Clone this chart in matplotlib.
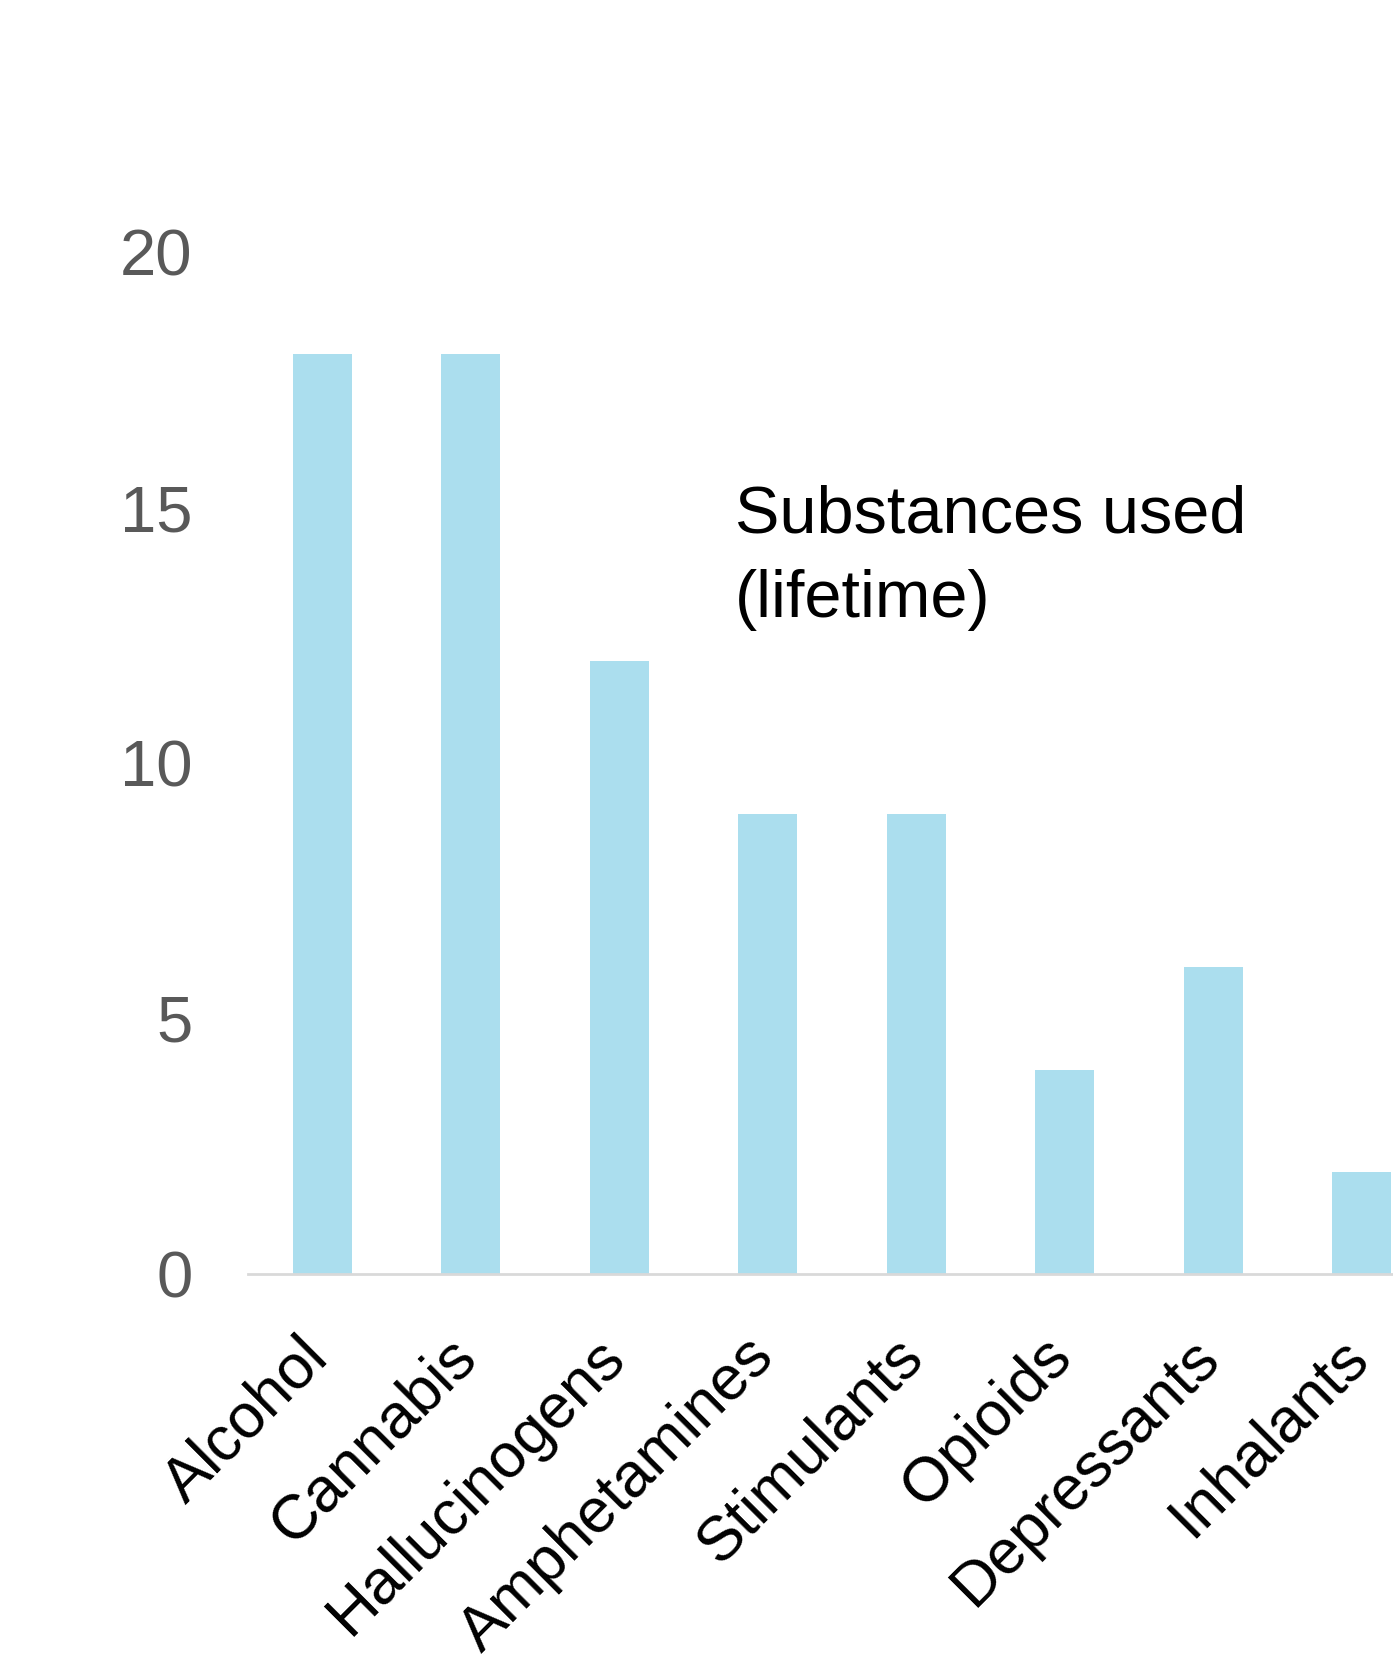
import matplotlib.pyplot as plt
from matplotlib.transforms import ScaledTranslation

plt.rcParams['font.family'] = ['Liberation Sans', 'DejaVu Sans']

substances = ['Alcohol', 'Cannabis', 'Hallucinogens', 'Amphetamines',
              'Stimulants', 'Opioids', 'Depressants', 'Inhalants']
counts = [18, 18, 12, 9, 9, 4, 6, 2]
yticks = [0, 5, 10, 15, 20]

W, H = 1393, 1662
fig = plt.figure(figsize=(W / 100, H / 100), dpi=100)

# axes runs past the right edge of the figure, like the original
left, bottom = 248 / W, (H - 1274) / H
ax = fig.add_axes([left, bottom, 1188 / W, 1022 / H])

x = range(len(substances))
ax.bar(x, counts, width=0.4, color='#ABDEEE', zorder=2)

ax.set_xlim(-0.5, 7.5)
ax.set_ylim(0, 20)
ax.set_yticks(yticks)
ax.set_yticklabels([str(t) for t in yticks], fontsize=47, color='#595959')
ax.set_xticks(list(x))
ax.set_xticklabels(substances, fontsize=45, color='black',
                   rotation=45, ha='right', rotation_mode='anchor')
ax.tick_params(axis='both', length=0)
ax.tick_params(axis='y', pad=40)
ax.tick_params(axis='x', pad=38)

shift = ScaledTranslation(-0.24, 0, fig.dpi_scale_trans)
for lab in ax.get_xticklabels():
    lab.set_transform(lab.get_transform() + shift)

for s in ['top', 'right', 'left']:
    ax.spines[s].set_visible(False)
ax.spines['bottom'].set_color('#D9D9D9')
ax.spines['bottom'].set_linewidth(2)

ax.text(2.78, 14.52, 'Substances used', fontsize=48, color='black', va='baseline')
ax.text(2.78, 12.85, '(lifetime)', fontsize=48, color='black', va='baseline')

fig.savefig('out.png', dpi=100)
